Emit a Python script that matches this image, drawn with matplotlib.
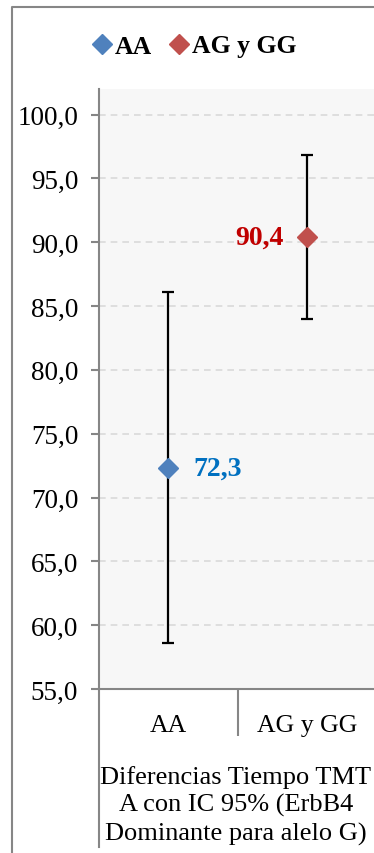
import matplotlib.pyplot as plt
from matplotlib.lines import Line2D
from matplotlib.ticker import FuncFormatter

plt.rcParams['font.family'] = ['Liberation Serif', 'DejaVu Serif']

# medias e IC 95% por genotipo
grupos = ["AA", "AG y GG"]
medias = [72.3, 90.4]
ic_inf = [58.6, 84.0]
ic_sup = [86.1, 96.8]
colores = ["#4F81BD", "#C0504D"]
colores_etiqueta = ["#0070C0", "#C00000"]
yticks = [55, 60, 65, 70, 75, 80, 85, 90, 95, 100]
titulo_eje = "Diferencias Tiempo TMT\nA con IC 95% (ErbB4\nDominante para alelo G)"

W, H = 374, 854
fig = plt.figure(figsize=(W / 100, H / 100), dpi=100)
ax = fig.add_axes([99 / W, 1 - 690 / H, 277 / W, 600 / H])
ax.set_facecolor("#F7F7F7")

gris = "#868686"
for i, (m, lo, hi) in enumerate(zip(medias, ic_inf, ic_sup)):
    ax.errorbar(i, m, yerr=[[m - lo], [hi - m]], fmt="none", ecolor="black",
                elinewidth=1.6, capsize=4.5, capthick=1.6, zorder=3)
    ax.plot(i, m, marker="D", ms=10.5, color=colores[i], linestyle="none",
            zorder=4, label=grupos[i])

# etiquetas de valor
ax.annotate(f"{medias[0]:.1f}".replace(".", ","), (0, medias[0]),
            xytext=(18, 0), textcoords="offset points", ha="left", va="center",
            fontsize=20, fontweight="bold", color=colores_etiqueta[0])
ax.annotate(f"{medias[1]:.1f}".replace(".", ","), (1, medias[1]),
            xytext=(-17, 0), textcoords="offset points", ha="right", va="center",
            fontsize=20, fontweight="bold", color=colores_etiqueta[1])

ax.set_xlim(-0.5, 1.5)
ax.set_ylim(55, 102)
ax.set_yticks(yticks)
ax.yaxis.set_major_formatter(FuncFormatter(lambda v, p: f"{v:.1f}".replace(".", ",")))
ax.grid(axis="y", color="#D9D9D9", linestyle=(0, (4, 3)), linewidth=1.2)
ax.set_axisbelow(True)
ax.tick_params(axis="y", length=6, width=1.5, color=gris, pad=9, labelsize=19.5)
ax.set_xticks([0, 1])
ax.set_xticklabels(grupos)
ax.tick_params(axis="x", length=0, pad=18, labelsize=18.5)
ax.set_xticks([0.5], minor=True)
ax.tick_params(axis="x", which="minor", length=34, width=1.5, color=gris)

for s in ["top", "right"]:
    ax.spines[s].set_visible(False)
for s in ["left", "bottom"]:
    ax.spines[s].set_color(gris)
    ax.spines[s].set_linewidth(1.5)

# prolongación del eje izquierdo bajo las categorías
fig.add_artist(Line2D([99 / W, 99 / W], [1 - 690 / H, 1 - 848 / H],
                      color=gris, linewidth=1.5))
# borde del gráfico
fig.add_artist(Line2D([12 / W, 12 / W, 1.0], [0.0, 1 - 8 / H, 1 - 8 / H],
                      color=gris, linewidth=1.5))

fig.text(236 / W, 1 - 806 / H, titulo_eje, ha="center", va="center",
         fontsize=19, linespacing=1.33)

fig.legend(loc="center", bbox_to_anchor=(193 / W, 1 - 47 / H), ncol=2,
           frameon=False, handletextpad=0.0, columnspacing=0.55,
           prop={"weight": "bold", "size": 18.5}, handlelength=1.0)

fig.savefig("out.png", dpi=100)
